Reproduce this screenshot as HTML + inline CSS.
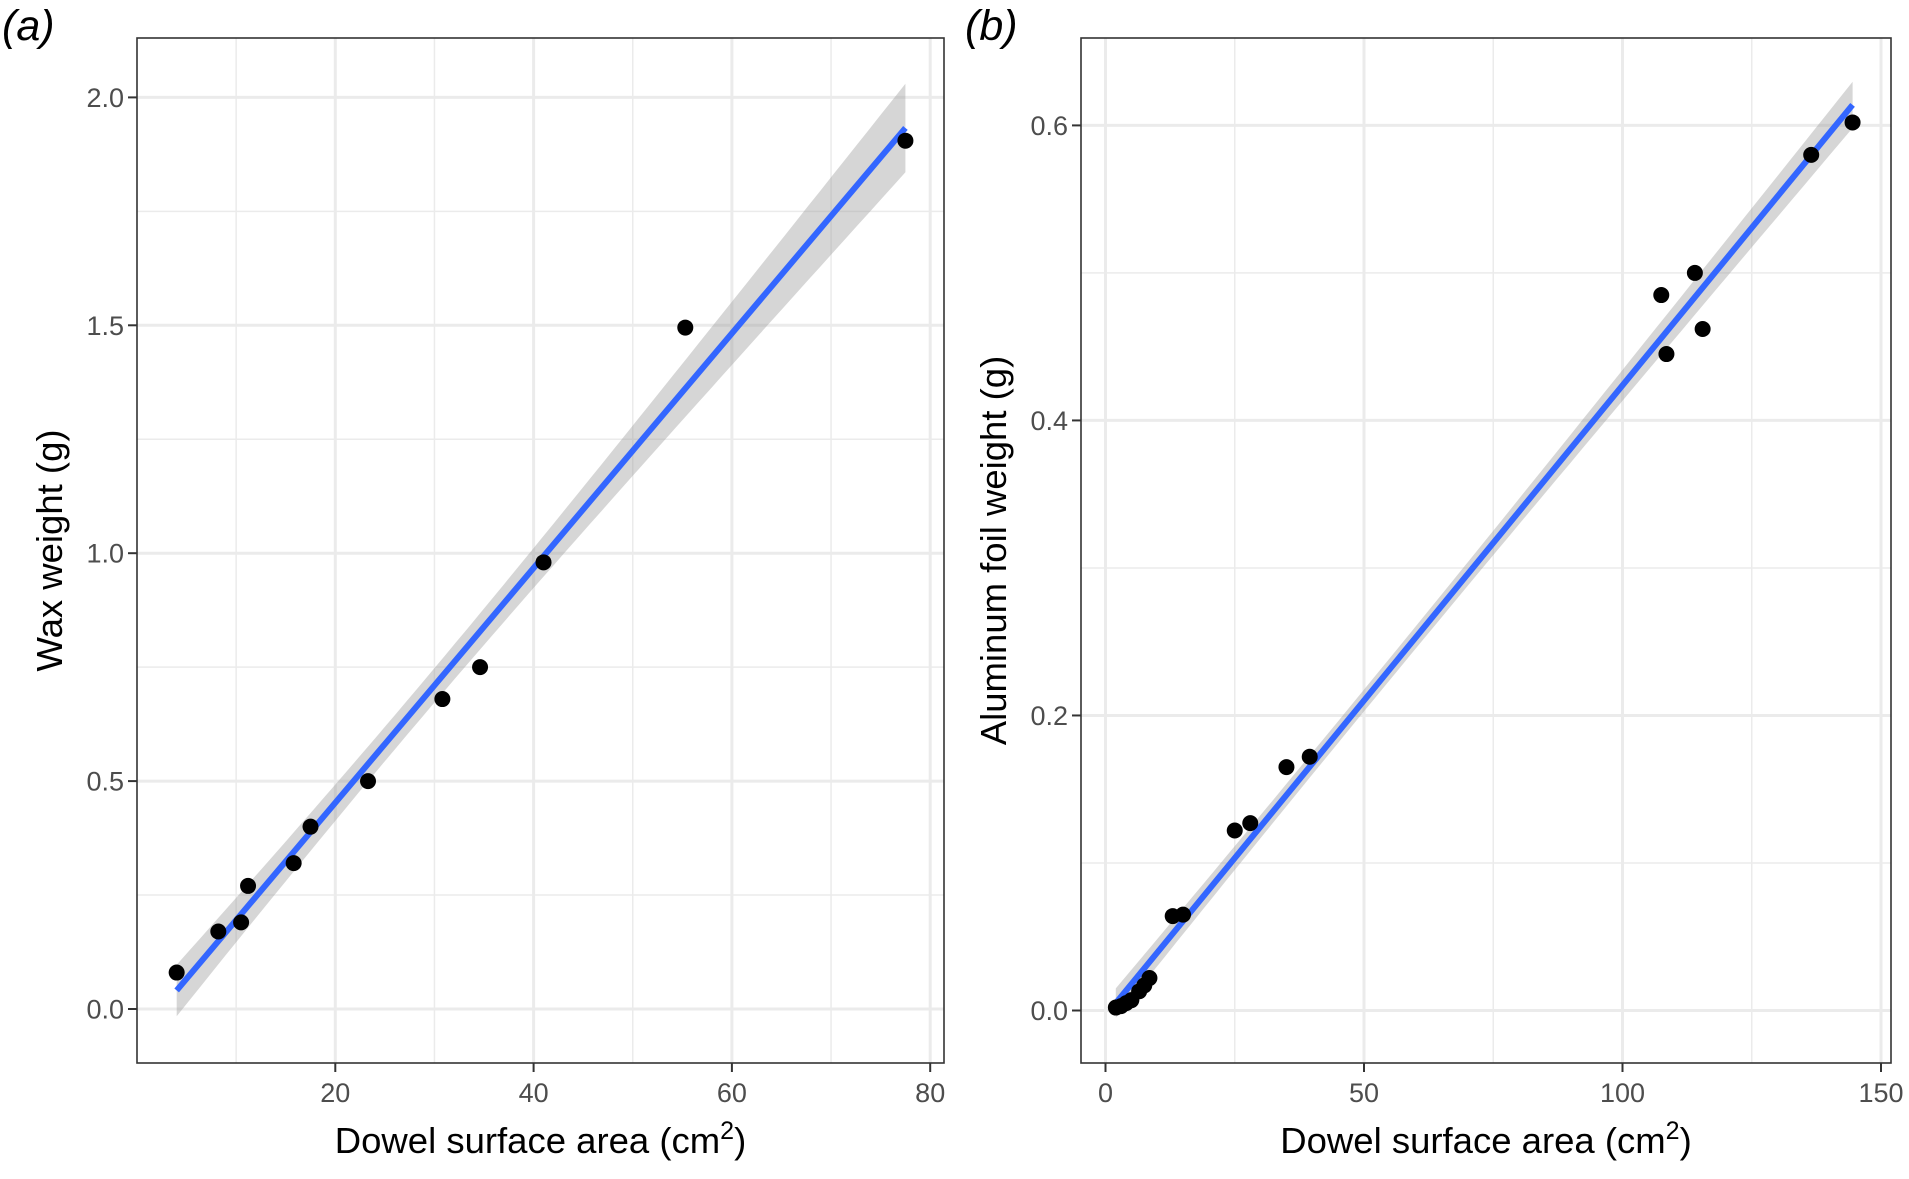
<!DOCTYPE html>
<html><head><meta charset="utf-8"><style>
html,body{margin:0;padding:0;background:#fff;}
svg{display:block;font-family:"Liberation Sans",Arial,sans-serif;}
</style></head><body>
<svg id="chart" width="1909" height="1179" viewBox="0 0 1909 1179"></svg>
<script>
const xA = [4,8.2,10.5,11.2,15.8,17.5,23.3,30.8,34.6,41,55.3,77.5];
const yA = [0.08,0.17,0.19,0.27,0.32,0.40,0.50,0.68,0.75,0.98,1.495,1.905];
const xB = [2,3,4,5,6.5,7.5,8.5,13,15,25,28,35,39.5,107.5,108.5,114,115.5,136.5,144.5];
const yB = [0.002,0.003,0.005,0.007,0.013,0.017,0.022,0.064,0.065,0.122,0.127,0.165,0.172,0.485,0.445,0.5,0.462,0.58,0.602];
const xTicksA = [20,40,60,80];
const yTicksA = [0.0,0.5,1.0,1.5,2.0];
const xTicksB = [0,50,100,150];
const yTicksB = [0.0,0.2,0.4,0.6];

const NS="http://www.w3.org/2000/svg";
const svg=document.getElementById('chart');
function mk(tag,attrs,parent){const e=document.createElementNS(NS,tag);for(const k in attrs)e.setAttribute(k,attrs[k]);(parent||svg).appendChild(e);return e;}

function panel(cfg){
  const {L,R,T,B,xs,ys,xT,yT,xMinor,yMinor,xd,yd,ytitle,tag,tagX,yDigits,name}=cfg;
  const g=mk('g',{});
  
  
  mk('rect',{x:L,y:T,width:R-L,height:B-T,fill:'#fff'},g);
  xMinor.forEach(v=>{mk('line',{x1:xs(v),x2:xs(v),y1:T,y2:B,stroke:'#ebebeb','stroke-width':1.5},g);});
  yMinor.forEach(v=>{mk('line',{y1:ys(v),y2:ys(v),x1:L,x2:R,stroke:'#ebebeb','stroke-width':1.5},g);});
  xT.forEach(v=>{mk('line',{x1:xs(v),x2:xs(v),y1:T,y2:B,stroke:'#ebebeb','stroke-width':3},g);});
  yT.forEach(v=>{mk('line',{y1:ys(v),y2:ys(v),x1:L,x2:R,stroke:'#ebebeb','stroke-width':3},g);});
  const n=xd.length;const mx=xd.reduce((a,b)=>a+b)/n;const my=yd.reduce((a,b)=>a+b)/n;
  let sxx=0,sxy=0;for(let i=0;i<n;i++){sxx+=(xd[i]-mx)**2;sxy+=(xd[i]-mx)*(yd[i]-my);}
  const b=sxy/sxx,a=my-b*mx;let sse=0;for(let i=0;i<n;i++)sse+=(yd[i]-a-b*xd[i])**2;
  const s=Math.sqrt(sse/(n-2));const t=n<15?2.23:2.11;
  const x0=Math.min(...xd),x1=Math.max(...xd);
  const up=[],lo=[];
  for(let k=0;k<=60;k++){const x=x0+(x1-x0)*k/60;const se=s*Math.sqrt(1/n+(x-mx)**2/sxx);const yh=a+b*x;
    up.push(xs(x).toFixed(1)+','+ys(yh+t*se).toFixed(1));lo.unshift(xs(x).toFixed(1)+','+ys(yh-t*se).toFixed(1));}
  const band=mk('polygon',{points:up.concat(lo).join(' '),fill:'#999','fill-opacity':0.4},g);
  
  
  const fl=mk('line',{x1:xs(x0),y1:ys(a+b*x0),x2:xs(x1),y2:ys(a+b*x1),stroke:'#3366FF','stroke-width':6},g);
  
  
  for(let i=0;i<n;i++){const c=mk('circle',{cx:xs(xd[i]),cy:ys(yd[i]),r:8,fill:'#000'},g);
    
    }
  mk('rect',{x:L,y:T,width:R-L,height:B-T,fill:'none',stroke:'#333','stroke-width':1.6},g);
  xT.forEach(v=>{mk('line',{x1:xs(v),x2:xs(v),y1:B,y2:B+9,stroke:'#333','stroke-width':2},g);
    const tx=mk('text',{x:xs(v),y:B+39,'text-anchor':'middle','font-size':27,fill:'#4d4d4d'},g);tx.textContent=String(v);
    
    });
  yT.forEach(v=>{mk('line',{x1:L-9,x2:L,y1:ys(v),y2:ys(v),stroke:'#333','stroke-width':2},g);
    const tx=mk('text',{x:L-13,y:ys(v)+9.5,'text-anchor':'end','font-size':27,fill:'#4d4d4d'},g);tx.textContent=v.toFixed(yDigits);
    
    });
  const xt=mk('text',{x:(L+R)/2,y:1153,'text-anchor':'middle','font-size':36.5,fill:'#000'},g);
  xt.innerHTML='Dowel surface area (cm<tspan dy="-14" font-size="25">2</tspan><tspan dy="14">)</tspan>';
  
  
  const yy=(T+B)/2;const yx=L-75;
  const ytt=mk('text',{x:yx,y:yy,'text-anchor':'middle','font-size':36.5,fill:'#000',transform:`rotate(-90 ${yx} ${yy})`},g);
  ytt.textContent=ytitle;
  
  
  const tg=mk('text',{x:tagX,y:40,'font-size':43,'font-style':'italic',fill:'#000'},g);tg.textContent=tag;
  
  
}
(function(){
  const L=137,R=944,T=38,B=1063;
  const xs=v=>335.3+(v-20)*(930.2-335.3)/60;
  const ys=v=>1009-v*(1009-97.4)/2;
  panel({L,R,T,B,xs,ys,xT:xTicksA,yT:yTicksA,xMinor:[10,30,50,70],yMinor:[0.25,0.75,1.25,1.75],xd:xA,yd:yA,ytitle:'Wax weight (g)',tag:'(a)',tagX:2,yDigits:1,name:'panel-a-wax'});
})();
(function(){
  const L=1081,R=1891,T=38,B=1063;
  const xs=v=>1105.5+v*(1881-1105.5)/150;
  const ys=v=>1010.5-v*(1010.5-125.4)/0.6;
  panel({L,R,T,B,xs,ys,xT:xTicksB,yT:yTicksB,xMinor:[25,75,125],yMinor:[0.1,0.3,0.5],xd:xB,yd:yB,ytitle:'Aluminum foil weight (g)',tag:'(b)',tagX:965,yDigits:1,name:'panel-b-foil'});
})();
</script>
</body></html>
